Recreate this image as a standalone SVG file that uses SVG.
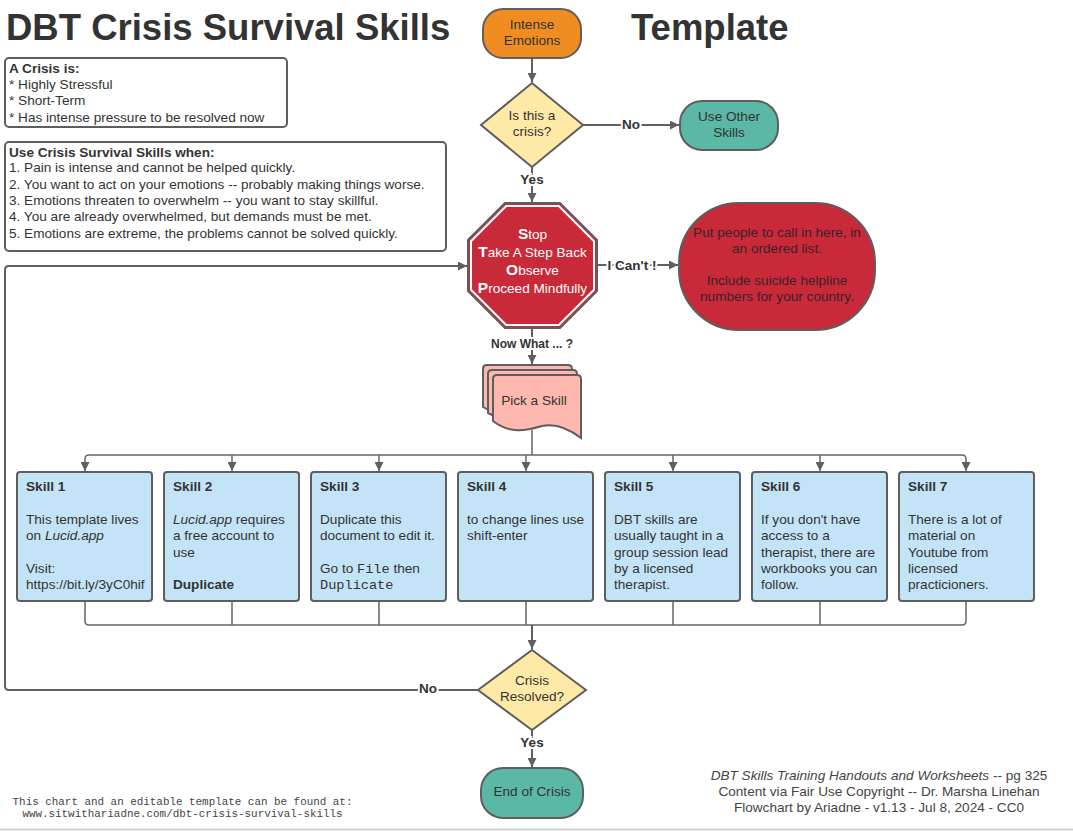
<svg xmlns="http://www.w3.org/2000/svg" width="1073" height="831" viewBox="0 0 1073 831">
<style>
.t{font-family:"Liberation Sans",Arial,sans-serif;font-size:13.6px;fill:#333}
.c{text-anchor:middle}
.b{font-weight:bold}
.i{font-style:italic}
.m{font-family:"Liberation Mono","Courier New",monospace}
.title{font-family:"Liberation Sans",Arial,sans-serif;font-size:36.5px;font-weight:bold;fill:#333}
.lbl{font-family:"Liberation Sans",Arial,sans-serif;font-size:13.5px;font-weight:bold;fill:#333;text-anchor:middle;stroke:#fff;stroke-width:4;paint-order:stroke}
.ln{fill:none;stroke:#606060;stroke-width:2}
.br{fill:none;stroke:#666;stroke-width:1.5}
.box{stroke:#5e5e5e;stroke-width:2}
.skill{fill:#c3e4f6;stroke:#5e5e5e;stroke-width:2}
</style>
<defs>
<marker id="arr" viewBox="0 0 10 10" refX="10" refY="5" markerWidth="9" markerHeight="9" markerUnits="userSpaceOnUse" orient="auto"><path d="M0,0 L10,5 L0,10 z" fill="#5f5f5f"/></marker>
</defs>
<rect width="1073" height="831" fill="#fff"/>
<line x1="0" y1="829.5" x2="1073" y2="829.5" stroke="#d0d0d0" stroke-width="2"/>

<text class="title" x="6" y="40">DBT Crisis Survival Skills</text>
<text class="title" x="631" y="40">Template</text>

<g id="info1">
<rect x="5" y="58" width="282" height="69" rx="4" fill="#fff" stroke="#5e5e5e" stroke-width="2"/>
<text class="t" x="9" y="73"><tspan class="b">A Crisis is:</tspan><tspan x="9" y="89">* Highly Stressful</tspan><tspan x="9" y="105">* Short-Term</tspan><tspan x="9" y="121.5">* Has intense pressure to be resolved now</tspan></text>
</g>
<g id="info2">
<rect x="5" y="142" width="441" height="109" rx="4" fill="#fff" stroke="#5e5e5e" stroke-width="2"/>
<text class="t" x="9" y="156.5"><tspan class="b">Use Crisis Survival Skills when:</tspan><tspan x="9" y="172">1. Pain is intense and cannot be helped quickly.</tspan><tspan x="9" y="188.5">2. You want to act on your emotions -- probably making things worse.</tspan><tspan x="9" y="205">3. Emotions threaten to overwhelm -- you want to stay skillful.</tspan><tspan x="9" y="221">4. You are already overwhelmed, but demands must be met.</tspan><tspan x="9" y="237.5">5. Emotions are extreme, the problems cannot be solved quickly.</tspan></text>
</g>

<g id="connectors">
<path class="ln" d="M532,58 V82" marker-end="url(#arr)"/>
<path class="ln" d="M583,125 H679" marker-end="url(#arr)"/>
<path class="ln" d="M532,167 V202" marker-end="url(#arr)"/>
<path class="ln" d="M597,265 H678" marker-end="url(#arr)"/>
<path class="ln" d="M532,328 V364" marker-end="url(#arr)"/>
<path class="br" d="M532,430 V455"/>
<path class="br" d="M532,455 H89 Q85,455 85,459 V471" marker-end="url(#arr)"/>
<path class="br" d="M532,455 H962 Q966,455 966,459 V471" marker-end="url(#arr)"/>
<path class="br" d="M232,455 V471" marker-end="url(#arr)"/>
<path class="br" d="M379,455 V471" marker-end="url(#arr)"/>
<path class="br" d="M526,455 V471" marker-end="url(#arr)"/>
<path class="br" d="M673,455 V471" marker-end="url(#arr)"/>
<path class="br" d="M820,455 V471" marker-end="url(#arr)"/>
<path class="br" d="M85,601 V621 Q85,625 89,625 H962 Q966,625 966,621 V601"/>
<path class="br" d="M232,601 V625 M379,601 V625 M526,601 V625 M673,601 V625 M820,601 V625"/>
<path class="ln" d="M532,625 V649" marker-end="url(#arr)"/>
<path class="ln" d="M478,690 H9 Q5,690 5,686 V270 Q5,266 9,266 H467" marker-end="url(#arr)"/>
<path class="ln" d="M532,730 V767" marker-end="url(#arr)"/>
<text class="lbl" x="631" y="129">No</text>
<text class="lbl" x="532" y="184">Yes</text>
<text class="lbl" x="632" y="269.5">I Can't !</text>
<text class="lbl" x="532" y="348" style="font-size:12px">Now What ... ?</text>
<text class="lbl" x="428" y="693">No</text>
<text class="lbl" x="532" y="747">Yes</text>
</g>

<g id="intense">
<rect class="box" x="483" y="9" width="98" height="49" rx="20" fill="#ef8d22"/>
<text class="t c" x="532" y="28.5">Intense<tspan x="532" y="44.5">Emotions</tspan></text>
</g>
<g id="is-crisis">
<polygon class="box" points="532,83 583,125 532,167 481,125" fill="#ffe9a6"/>
<text class="t c" x="532" y="120">Is this a<tspan x="532" y="136">crisis?</tspan></text>
</g>
<g id="other">
<rect class="box" x="680" y="101" width="98" height="49" rx="22" fill="#5cb8a6"/>
<text class="t c" x="729" y="121">Use Other<tspan x="729" y="137">Skills</tspan></text>
</g>
<g id="stop">
<polygon points="505,203 560,203 597,240 597,291 560,328 505,328 468,291 468,240" fill="#c92a39" stroke="#5e5e5e" stroke-width="2"/>
<polygon points="506.2,206 558.8,206 594,241.2 594,289.8 558.8,325 506.2,325 471,289.8 471,241.2" fill="none" stroke="#fff" stroke-width="2"/>
<text class="t c" x="532.5" y="239" style="fill:#fff"><tspan class="b" style="font-size:15.5px">S</tspan>top</text>
<text class="t c" x="532.5" y="257" style="fill:#fff"><tspan class="b" style="font-size:15.5px">T</tspan>ake A Step Back</text>
<text class="t c" x="532.5" y="275" style="fill:#fff"><tspan class="b" style="font-size:15.5px">O</tspan>bserve</text>
<text class="t c" x="532.5" y="293" style="fill:#fff"><tspan class="b" style="font-size:15.5px">P</tspan>roceed Mindfully</text>
</g>
<g id="call">
<rect class="box" x="679" y="203" width="196" height="127" rx="60" fill="#c92a39"/>
<text class="t c" x="777" y="236.5" style="fill:#3a2326">Put people to call in here, in<tspan x="777" y="252.5">an ordered list.</tspan><tspan x="777" y="285">Include suicide helpline</tspan><tspan x="777" y="301">numbers for your country.</tspan></text>
</g>
<g id="pick">
<path d="M483,369 Q483,365 487,365 H568 Q572,365 572,369 V418 C560,410 548,408 535,413 C520,420 505,420 483,407 Z" fill="#ffb8b0" stroke="#5e5e5e" stroke-width="2"/>
<path d="M488,374 Q488,370 492,370 H573 Q577,370 577,374 V428 C565,418 553,415 540,420 C525,427 510,424 488,413 Z" fill="#ffb8b0" stroke="#5e5e5e" stroke-width="2"/>
<path d="M493,379 Q493,375 497,375 H577 Q581,375 581,379 V438 C568,428 556,423 542,426 C525,431 510,434 493,421 Z" fill="#ffb8b0" stroke="#5e5e5e" stroke-width="2"/>
<text class="t c" x="534" y="404.5">Pick a Skill</text>
</g>

<g id="skill1">
<rect class="skill" x="17" y="472" width="135" height="129" rx="3"/>
<text class="t" x="26" y="491"><tspan class="b">Skill 1</tspan><tspan x="26" y="524">This template lives</tspan><tspan x="26" y="540">on <tspan class="i">Lucid.app</tspan></tspan><tspan x="26" y="573">Visit:</tspan><tspan x="26" y="589">https://bit.ly/3yC0hif</tspan></text>
</g>
<g id="skill2">
<rect class="skill" x="164" y="472" width="135" height="129" rx="3"/>
<text class="t" x="173" y="491"><tspan class="b">Skill 2</tspan><tspan x="173" y="524"><tspan class="i">Lucid.app</tspan> requires</tspan><tspan x="173" y="540">a free account to</tspan><tspan x="173" y="556.5">use</tspan><tspan x="173" y="589" class="b">Duplicate</tspan></text>
</g>
<g id="skill3">
<rect class="skill" x="311" y="472" width="135" height="129" rx="3"/>
<text class="t" x="320" y="491"><tspan class="b">Skill 3</tspan><tspan x="320" y="524">Duplicate this</tspan><tspan x="320" y="540">document to edit it.</tspan><tspan x="320" y="573">Go to <tspan class="m">File</tspan> then</tspan><tspan x="320" y="589" class="m">Duplicate</tspan></text>
</g>
<g id="skill4">
<rect class="skill" x="458" y="472" width="135" height="129" rx="3"/>
<text class="t" x="467" y="491"><tspan class="b">Skill 4</tspan><tspan x="467" y="524">to change lines use</tspan><tspan x="467" y="540">shift-enter</tspan></text>
</g>
<g id="skill5">
<rect class="skill" x="605" y="472" width="135" height="129" rx="3"/>
<text class="t" x="614" y="491"><tspan class="b">Skill 5</tspan><tspan x="614" y="524">DBT skills are</tspan><tspan x="614" y="540">usually taught in a</tspan><tspan x="614" y="556.5">group session lead</tspan><tspan x="614" y="573">by a licensed</tspan><tspan x="614" y="589">therapist.</tspan></text>
</g>
<g id="skill6">
<rect class="skill" x="752" y="472" width="135" height="129" rx="3"/>
<text class="t" x="761" y="491"><tspan class="b">Skill 6</tspan><tspan x="761" y="524">If you don't have</tspan><tspan x="761" y="540">access to a</tspan><tspan x="761" y="556.5">therapist, there are</tspan><tspan x="761" y="573">workbooks you can</tspan><tspan x="761" y="589">follow.</tspan></text>
</g>
<g id="skill7">
<rect class="skill" x="899" y="472" width="135" height="129" rx="3"/>
<text class="t" x="908" y="491"><tspan class="b">Skill 7</tspan><tspan x="908" y="524">There is a lot of</tspan><tspan x="908" y="540">material on</tspan><tspan x="908" y="556.5">Youtube from</tspan><tspan x="908" y="573">licensed</tspan><tspan x="908" y="589">practicioners.</tspan></text>
</g>

<g id="resolved">
<polygon class="box" points="532,650 586,690 532,730 478,690" fill="#ffe9a6"/>
<text class="t c" x="532" y="685">Crisis<tspan x="532" y="701">Resolved?</tspan></text>
</g>
<g id="end">
<rect class="box" x="481" y="768" width="102" height="50" rx="22" fill="#5cb8a6"/>
<text class="t c" x="532" y="796">End of Crisis</text>
</g>

<g id="footer">
<text class="t m c" x="182.5" y="805" style="font-size:10.9px;fill:#444">This chart and an editable template can be found at:<tspan x="182.5" y="817">www.sitwithariadne.com/dbt-crisis-survival-skills</tspan></text>
<text class="t c" x="879" y="780" style="fill:#444"><tspan class="i">DBT Skills Training Handouts and Worksheets</tspan> -- pg 325<tspan x="879" y="796">Content via Fair Use Copyright -- Dr. Marsha Linehan</tspan><tspan x="879" y="812">Flowchart by Ariadne - v1.13 - Jul 8, 2024 - CC0</tspan></text>
</g>
</svg>
